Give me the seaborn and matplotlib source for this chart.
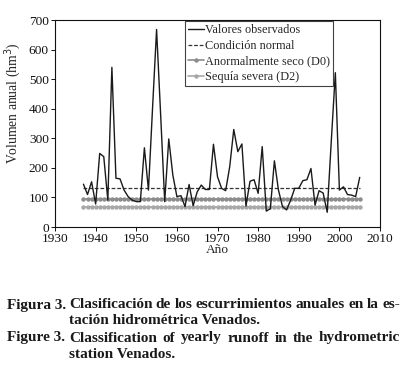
import pandas as pd
import matplotlib.pyplot as plt
import seaborn as sns

# Escurrimientos anuales, estación hidrométrica Venados
anios = list(range(1937, 2006))
volumen = [145, 110, 153, 78, 249, 238, 91, 540, 165, 163,
           125, 103, 91, 86, 86, 268, 125, 400, 668, 380,
           86, 298, 176, 103, 106, 69, 144, 72, 119, 142,
           127, 127, 280, 170, 131, 123, 204, 330, 255, 281,
           71, 155, 160, 114, 272, 54, 62, 224, 125, 69,
           58, 91, 131, 131, 157, 160, 198, 74, 123, 115,
           50, 290, 522, 125, 136, 110, 108, 103, 168]

# Umbrales de clasificación (hm3)
condicion_normal = 133
anormal_seco_d0 = 95
sequia_severa_d2 = 69

df = pd.DataFrame({
    'Año': anios,
    'Valores observados': volumen,
    'Condición normal': [condicion_normal] * len(anios),
    'Anormalmente seco (D0)': [anormal_seco_d0] * len(anios),
    'Sequía severa (D2)': [sequia_severa_d2] * len(anios),
})

sns.set_style('ticks')
plt.rcParams['font.family'] = ['Liberation Serif', 'DejaVu Serif']
plt.rcParams['axes.linewidth'] = 0.8

fig = plt.figure(figsize=(4.03, 3.68), dpi=100)
ax = fig.add_axes([0.1365, 0.383, 0.8065, 0.5625])

sns.lineplot(data=df, x='Año', y='Sequía severa (D2)', ax=ax, color='#a8a8a8',
             marker='o', markersize=3.2, markeredgewidth=0, linewidth=1.2,
             label='Sequía severa (D2)')
sns.lineplot(data=df, x='Año', y='Anormalmente seco (D0)', ax=ax, color='#8c8c8c',
             marker='o', markersize=3.2, markeredgewidth=0, linewidth=1.2,
             label='Anormalmente seco (D0)')
sns.lineplot(data=df, x='Año', y='Condición normal', ax=ax, color='#333333',
             linewidth=0.9, dashes=(3, 1.5), label='Condición normal')
sns.lineplot(data=df, x='Año', y='Valores observados', ax=ax, color='#1a1a1a',
             linewidth=1.0, label='Valores observados')

ax.set_xlim(1930, 2010)
ax.set_ylim(0, 700)
ax.set_xticks(range(1930, 2011, 10))
ax.set_yticks(range(0, 701, 100))
ax.tick_params(labelsize=9.6, length=3, width=0.7, colors='#111111', pad=1.5)
for s in ax.spines.values():
    s.set_visible(True)
    s.set_color('#111111')

ax.set_xlabel('Año', fontsize=9.6, labelpad=-1)
ax.set_ylabel('Volumen anual (hm$^3$)', fontsize=9.8)
ax.yaxis.set_label_coords(-0.098, 0.6)

h, l = ax.get_legend_handles_labels()
orden = [3, 2, 1, 0]
leg = ax.legend([h[i] for i in orden], [l[i] for i in orden], loc='upper left',
                bbox_to_anchor=(0.4, 0.995), fontsize=8.8, frameon=True,
                fancybox=False, edgecolor='#111111', handlelength=1.3,
                handletextpad=0.1, borderpad=0.25, labelspacing=0.3,
                borderaxespad=0)
leg.get_frame().set_linewidth(0.8)

# Pie de figura (líneas 1 y 3 justificadas)
cap = dict(fontsize=11, fontweight='bold', color='#1a1a1a', va='center')
W, H = 403, 368
renderer = fig.canvas.get_renderer()


def justificar(palabras, x0, x1, y):
    objs = [fig.text(0, 1 - y / H, p, **cap) for p in palabras]
    anchos = [o.get_window_extent(renderer).width for o in objs]
    hueco = ((x1 - x0) - sum(anchos)) / (len(palabras) - 1)
    x = x0
    for o, a in zip(objs, anchos):
        o.set_x(x / W)
        x += a + hueco


fig.text(7 / W, 1 - 305 / H, 'Figura 3.', **cap)
justificar('Clasificación de los escurrimientos anuales en la es-'.split(), 69, 400, 305)
fig.text(69 / W, 1 - 321 / H, 'tación hidrométrica Venados.', **cap)
fig.text(7 / W, 1 - 338 / H, 'Figure 3.', **cap)
justificar('Classification of yearly runoff in the hydrometric'.split(), 69, 400, 338)
fig.text(69 / W, 1 - 354 / H, 'station Venados.', **cap)

fig.savefig('out.png', dpi=100, facecolor='white')
